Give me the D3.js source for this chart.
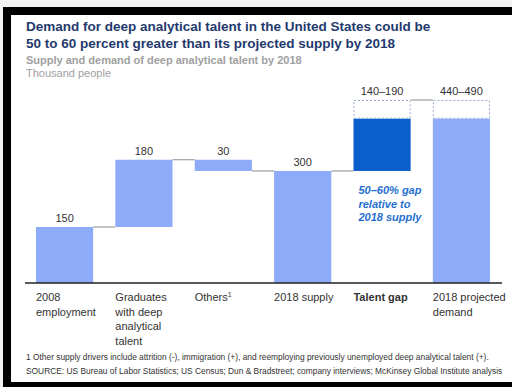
<!DOCTYPE html>
<html>
<head>
<meta charset="utf-8">
<script src="https://cdn.jsdelivr.net/npm/d3@7"></script>
<style>
  body { margin: 0; background: #f2f2f2; }
  svg { display: block; font-family: "Liberation Sans", Arial, sans-serif; }
</style>
</head>
<body>
<svg id="chart" width="512" height="387"></svg>
<script>
// data
var categories = ["2008 employment", "Graduates", "Others", "2018 supply", "Talent gap", "2018 projected demand"];
var labelLines = [["2008", "employment"], ["Graduates", "with deep", "analytical", "talent"], ["Others"], ["2018 supply"], ["Talent gap"], ["2018 projected", "demand"]];
var barLow = [0, 150, 300, 0, 300, 0];
var barHigh = [150, 330, 330, 300, 440, 440];
var rangeHigh = [null, null, null, null, 490, 490];
var valueLabels = ["150", "180", "30", "300", "140–190", "440–490"];
var connectorLevels = [150, 330, 300, 300, 490];
var gapNote = ["50–60% gap", "relative to", "2018 supply"];

var svg = d3.select("#chart");

// black frame + white panel
svg.append("rect").attr("x", 3).attr("y", 7).attr("width", 509).attr("height", 380).attr("fill", "#000");
svg.append("rect").attr("x", 11).attr("y", 15).attr("width", 501).attr("height", 367).attr("fill", "#fff");

var x = d3.scaleBand().domain(categories).range([36, 490]).paddingInner(0.28).paddingOuter(0);
var y = d3.scaleLinear().domain([0, 490]).range([283, 100]);

// titles
var title = svg.append("text").attr("x", 26).attr("y", 31)
  .attr("fill", "#1f3a6d").attr("font-weight", "bold").attr("font-size", 13.5);
title.append("tspan").attr("x", 26).text("Demand for deep analytical talent in the United States could be");
title.append("tspan").attr("x", 26).attr("dy", 17).text("50 to 60 percent greater than its projected supply by 2018");

svg.append("text").attr("x", 26).attr("y", 64).attr("fill", "#a0a0a0").attr("font-weight", "bold")
  .attr("font-size", 11).text("Supply and demand of deep analytical talent by 2018");
svg.append("text").attr("x", 26).attr("y", 77).attr("fill", "#a0a0a0")
  .attr("font-size", 11).text("Thousand people");

// connectors
svg.selectAll(".conn").data(connectorLevels).enter().append("line")
  .attr("class", "conn")
  .attr("x1", function(d, i) { return x(categories[i]) + x.bandwidth(); })
  .attr("x2", function(d, i) { return x(categories[i + 1]); })
  .attr("y1", function(d) { return y(d); })
  .attr("y2", function(d) { return y(d); })
  .attr("stroke", "#8c8c8c").attr("stroke-width", 1);

// bars
svg.selectAll(".bar").data(categories).enter().append("rect")
  .attr("class", "bar")
  .attr("x", function(d) { return x(d); })
  .attr("width", x.bandwidth())
  .attr("y", function(d, i) { return y(barHigh[i]); })
  .attr("height", function(d, i) { return y(barLow[i]) - y(barHigh[i]); })
  .attr("fill", function(d) { return d == "Talent gap" ? "#0a5fcc" : "#8eabf9"; });

// dashed range boxes
svg.selectAll(".range").data(categories.filter(function(d, i) { return rangeHigh[i] != null; }))
  .enter().append("rect")
  .attr("class", "range")
  .attr("x", function(d) { return x(d) + 0.5; })
  .attr("width", x.bandwidth() - 1)
  .attr("y", function(d) { return y(rangeHigh[categories.indexOf(d)]) + 0.5; })
  .attr("height", function(d) { var i = categories.indexOf(d); return y(barHigh[i]) - y(rangeHigh[i]) - 1; })
  .attr("fill", "none").attr("stroke", "#9aa8d0").attr("stroke-width", 1).attr("stroke-dasharray", "2,2");

// value labels
svg.selectAll(".val").data(valueLabels).enter().append("text")
  .attr("class", "val")
  .attr("x", function(d, i) { return x(categories[i]) + x.bandwidth() / 2; })
  .attr("y", function(d, i) { return y(rangeHigh[i] != null ? rangeHigh[i] : barHigh[i]) - 5; })
  .attr("text-anchor", "middle").attr("font-size", 11).attr("fill", "#333")
  .text(function(d) { return d; });

// gap note
var note = svg.append("text").attr("fill", "#1f6fd1").attr("font-weight", "bold")
  .attr("font-style", "italic").attr("font-size", 11);
note.selectAll("tspan").data(gapNote).enter().append("tspan")
  .attr("x", x("Talent gap") + 5)
  .attr("y", function(d, i) { return 194 + i * 13.5; })
  .text(function(d) { return d; });

// baseline
svg.append("line").attr("x1", 25).attr("x2", 502).attr("y1", y(0)).attr("y2", y(0))
  .attr("stroke", "#222").attr("stroke-width", 1.5);

// category labels
var cat = svg.selectAll(".cat").data(categories).enter().append("text")
  .attr("class", "cat")
  .attr("font-size", 11).attr("fill", "#333")
  .attr("font-weight", function(d) { return d == "Talent gap" ? "bold" : "normal"; });
cat.each(function(d, i) {
  var t = d3.select(this);
  labelLines[i].forEach(function(line, j) {
    t.append("tspan").attr("x", x(d)).attr("y", 301 + j * 14.5).text(line);
    if (d == "Others") t.append("tspan").attr("font-size", 7).attr("dy", -4).text("1");
  });
});

// footnotes
svg.append("text").attr("x", 26).attr("y", 360).attr("font-size", 8.4).attr("fill", "#333")
  .text("1  Other supply drivers include attrition (-), immigration (+), and reemploying previously unemployed deep analytical talent (+).");
svg.append("text").attr("x", 26).attr("y", 374).attr("font-size", 8.4).attr("fill", "#333")
  .text("SOURCE: US Bureau of Labor Statistics; US Census; Dun & Bradstreet; company interviews; McKinsey Global Institute analysis");
</script>
</body>
</html>
